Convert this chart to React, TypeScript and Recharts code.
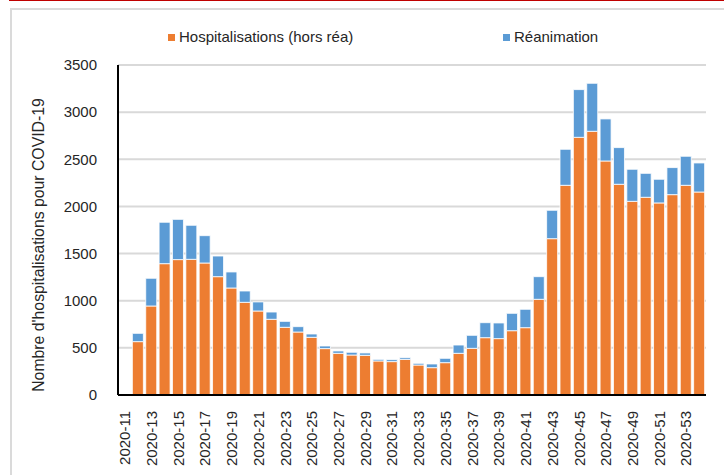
import React from 'react';
import {BarChart, Bar, XAxis, YAxis, CartesianGrid, Legend} from 'recharts';

const weeks = [
    '2020-11', '2020-12', '2020-13', '2020-14', '2020-15', '2020-16', '2020-17', '2020-18', '2020-19', '2020-20',
    '2020-21', '2020-22', '2020-23', '2020-24', '2020-25', '2020-26', '2020-27', '2020-28', '2020-29', '2020-30',
    '2020-31', '2020-32', '2020-33', '2020-34', '2020-35', '2020-36', '2020-37', '2020-38', '2020-39', '2020-40',
    '2020-41', '2020-42', '2020-43', '2020-44', '2020-45', '2020-46', '2020-47', '2020-48', '2020-49', '2020-50',
    '2020-51', '2020-52', '2020-53', '2021-01',
];

// hospitalisations hors réanimation
const hospit = [
    2, 566, 944, 1393, 1436, 1439, 1400, 1255, 1135, 983,
    891, 803, 718, 668, 612, 492, 442, 424, 421, 361,
    354, 378, 318, 290, 343, 442, 495, 608, 598, 682,
    714, 1015, 1658, 2224, 2733, 2797, 2482, 2235, 2054, 2097,
    2037, 2125, 2224, 2153,
];

// réanimation
const rea = [
    8, 88, 294, 439, 427, 361, 290, 219, 170, 120,
    96, 77, 63, 57, 35, 28, 25, 29, 25, 17,
    21, 18, 18, 39, 46, 88, 138, 159, 166, 184,
    195, 240, 301, 382, 506, 509, 446, 389, 340, 254,
    251, 287, 308, 308,
];

const yTicks = [0, 500, 1000, 1500, 2000, 2500, 3000, 3500];

const ORANGE = '#ED7D31';
const BLUE = '#5B9BD5';
const FONT = '"Liberation Sans", Arial, sans-serif';

const data = weeks.map((w, i) => ({week: w, hospit: hospit[i], rea: rea[i]}));

const WeekTick = (props: any) => {
    const {x, y, payload} = props;
    return (
        <text x={x} y={y + 8} transform={`rotate(-90 ${x} ${y + 8})`} textAnchor="end" dominantBaseline="central"
              fontSize={15} fill="#262626" fontFamily={FONT}>
            {payload.value}
        </text>
    );
};

const LegendBox = () => (
    <div style={{position: 'relative', width: 724, height: 20, fontFamily: FONT, fontSize: 15, color: '#262626'}}>
        <div style={{position: 'absolute', left: 168, top: 6, width: 7, height: 7, background: ORANGE}}/>
        <div style={{position: 'absolute', left: 179, top: 0, lineHeight: '18px'}}>Hospitalisations (hors réa)</div>
        <div style={{position: 'absolute', left: 503, top: 6, width: 7, height: 7, background: BLUE}}/>
        <div style={{position: 'absolute', left: 514, top: 0, lineHeight: '18px'}}>Réanimation</div>
    </div>
);

const App = (): JSX.Element => {
    return (
        <div style={{position: 'absolute', left: 0, top: 0, width: 724, height: 475, background: '#fff', overflow: 'hidden'}}>
            <div style={{position: 'absolute', left: 9, top: 0, width: 715, height: 1, background: '#C00000'}}/>
            <div style={{position: 'absolute', left: 10, top: 8, width: 730, height: 480, border: '2px solid #DADADA', boxSizing: 'border-box'}}/>
            <div style={{position: 'absolute', left: 0, top: 0}}>
                <BarChart
                    width={724}
                    height={475}
                    data={data}
                    margin={{top: 45, right: 18, left: 48, bottom: 0}}
                    barCategoryGap={1}
                >
                    <CartesianGrid vertical={false} stroke="#D9D9D9" strokeWidth={2}/>
                    <XAxis dataKey="week" interval={1} tickLine={false} height={80}
                           axisLine={{stroke: '#000', strokeWidth: 2}} tick={<WeekTick/>}/>
                    <YAxis type="number" domain={[0, 3500]} ticks={yTicks} width={70} tickLine={false}
                           axisLine={{stroke: '#000', strokeWidth: 2}} tickMargin={15}
                           tick={{fontSize: 15, fill: '#262626', fontFamily: FONT}}
                           label={{
                               content: () => (
                                   <text x={38} y={245} transform="rotate(-90 38 245)" textAnchor="middle"
                                         dominantBaseline="central" fontSize={15.8} fill="#262626" fontFamily={FONT}>
                                       Nombre d'hospitalisations pour COVID-19
                                   </text>
                               ),
                           }}/>
                    <Legend verticalAlign="top" content={<LegendBox/>}
                            wrapperStyle={{top: 28, left: 0, width: 724}}/>
                    <Bar dataKey="hospit" stackId="a" fill={ORANGE} stroke="#fff" strokeWidth={0.8}
                         isAnimationActive={false}/>
                    <Bar dataKey="rea" stackId="a" fill={BLUE} stroke="#fff" strokeWidth={0.8}
                         isAnimationActive={false}/>
                </BarChart>
            </div>
        </div>
    );
}

export default App;
